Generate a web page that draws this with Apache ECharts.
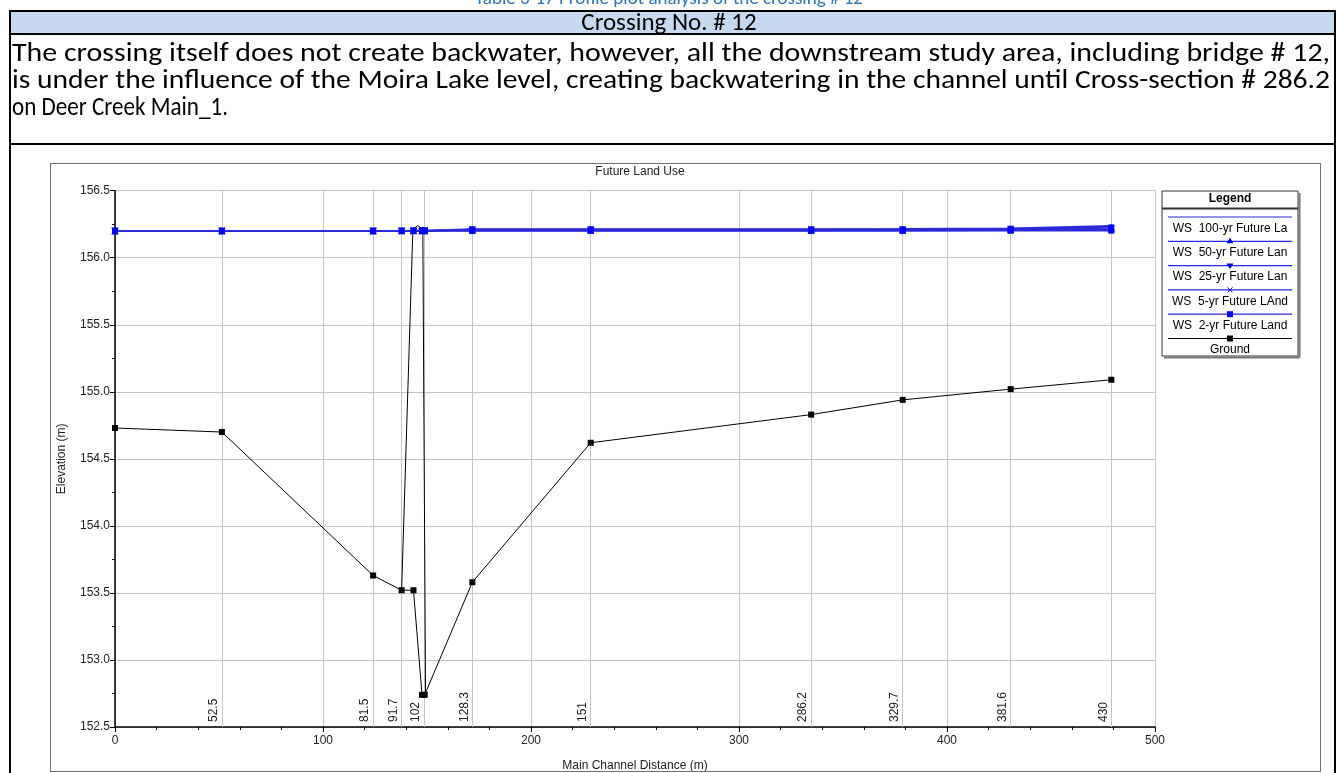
<!DOCTYPE html>
<html>
<head>
<meta charset="utf-8">
<script src="https://cdn.jsdelivr.net/npm/echarts@6/dist/echarts.min.js"></script>
<style>
  html, body { margin:0; padding:0; width:1338px; height:773px; overflow:hidden; background:#fff; }
  #chart { position:absolute; left:0; top:0; width:1338px; height:773px; }
  .doc { position:absolute; font-family: Carlito, 'Liberation Sans Narrow', 'Liberation Sans', sans-serif; color:#000; white-space:nowrap; }
  .fit { transform-origin: 0 50%; display:inline-block; }
  .hline { position:absolute; background:#000; }
</style>
</head>
<body>
<div id="chart"></div>
<!-- document table around the chart -->
<div class="doc" style="left:0;width:1338px;top:-14px;height:24px;line-height:24px;text-align:center;font-size:19px;color:#2E74B5;">Table 3-17 Profile plot analysis of the crossing # 12</div>
<div style="position:absolute;left:11px;top:12px;width:1323px;height:22px;background:#C6D9F1;"></div>
<div class="doc" style="left:0;width:1338px;top:10px;height:24px;line-height:24px;text-align:center;font-size:25px;">Crossing No. # 12</div>
<div class="hline" style="left:9px;top:10px;width:1327px;height:2px;"></div>
<div class="hline" style="left:9px;top:33px;width:1327px;height:2px;"></div>
<div class="hline" style="left:9px;top:143px;width:1327px;height:2px;"></div>
<div class="hline" style="left:9px;top:10px;width:2px;height:763px;"></div>
<div class="hline" style="left:1334px;top:10px;width:2px;height:763px;"></div>
<div class="doc" style="left:12px;top:38px;height:28px;line-height:28px;font-size:26px;"><span class="fit" data-w="1318">The crossing itself does not create backwater, however, all the downstream study area, including bridge # 12,</span></div>
<div class="doc" style="left:12px;top:65px;height:28px;line-height:28px;font-size:26px;"><span class="fit" data-w="1318">is under the influence of the Moira Lake level, creating backwatering in the channel until Cross-section # 286.2</span></div>
<div class="doc" style="left:12px;top:92px;height:28px;line-height:28px;font-size:26px;"><span class="fit" data-w="216">on Deer Creek Main_1.</span></div>
<div style="position:absolute;left:50px;top:163px;width:1269px;height:607px;border:1px solid #707070;"></div>

<script>
// ---------------- data ----------------
const distances = [0, 51.4, 124.1, 137.8, 143.5, 147.6, 148.9, 171.8, 228.7, 334.7, 378.7, 430.6, 479.0];
const ground    = [154.73, 154.70, 153.63, 153.52, 153.52, 152.74, 152.74, 153.58, 154.62, 154.83, 154.94, 155.02, 155.09];
const ws100     = [156.201, 156.201, 156.201, 156.201, 156.202, 156.202, 156.202, 156.214, 156.214, 156.214, 156.215, 156.220, 156.238];
const ws50      = [156.200, 156.200, 156.200, 156.201, 156.201, 156.201, 156.201, 156.211, 156.211, 156.211, 156.212, 156.216, 156.230];
const ws25      = [156.200, 156.200, 156.200, 156.200, 156.201, 156.201, 156.201, 156.208, 156.208, 156.208, 156.209, 156.212, 156.222];
const ws5       = [156.200, 156.200, 156.200, 156.200, 156.200, 156.200, 156.200, 156.204, 156.204, 156.204, 156.205, 156.207, 156.212];
const ws2       = [156.200, 156.200, 156.200, 156.200, 156.200, 156.200, 156.200, 156.200, 156.200, 156.200, 156.200, 156.201, 156.202];
const bridgeDist = [137.8, 143.2, 145.5, 148.0, 149.3];
const bridgeElev = [153.52, 156.21, 156.24, 156.21, 152.74];
const stationDist   = [51.4, 124.1, 137.8, 148.5, 171.8, 228.7, 334.7, 378.7, 430.6, 479.0];
const stationLabels = ['52.5', '81.5', '91.7', '102', '128.3', '151', '286.2', '329.7', '381.6', '430'];
const seriesNames = ['WS  100-yr Future La', 'WS  50-yr Future Lan', 'WS  25-yr Future Lan', 'WS  5-yr Future LAnd', 'WS  2-yr Future Land', 'Ground'];
const chartTitle = 'Future Land Use';
const xName = 'Main Channel Distance (m)';
const yName = 'Elevation (m)';

// ---------------- text fitting for document lines ----------------
document.querySelectorAll('.fit').forEach(function (el) {
  const w = el.getBoundingClientRect().width;
  const target = +el.getAttribute('data-w');
  if (w > 0) el.style.transform = 'scaleX(' + (target / w) + ')';
});

// ---------------- chart ----------------
const FONT = "'Liberation Sans', Arial, sans-serif";
const BLUE_LINE = '#2a2ad8';
const BLUE = '#0000ff';
const pair = (xs, ys) => xs.map((x, i) => [x, ys[i]]);

const G = { left: 115, top: 190.7, width: 1040, height: 536.3, containLabel: false, outerBoundsMode: 'none' };

const wsDefs = [
  { name: seriesNames[0], data: ws100, symbol: 'none', size: 0, rot: 0 },
  { name: seriesNames[1], data: ws50, symbol: 'triangle', size: 7, rot: 0 },
  { name: seriesNames[2], data: ws25, symbol: 'triangle', size: 7, rot: 180 },
  { name: seriesNames[3], data: ws5, symbol: 'path://M0,0L10,10M10,0L0,10', size: 6, rot: 0 },
  { name: seriesNames[4], data: ws2, symbol: 'rect', size: 6, rot: 0 }
];

const series = [];
series.push({
  type: 'line', name: 'stations', data: [], silent: true, z: 1,
  markLine: {
    silent: true, symbol: ['none', 'none'], animation: false, z: 1,
    lineStyle: { color: '#c4c4c4', width: 1, type: 'solid' },
    label: { show: true, position: 'insideStartTop', formatter: '{b}', color: '#222', fontSize: 12, fontFamily: FONT, distance: [5, 2] },
    emphasis: { disabled: true },
    data: stationDist.map((d, i) => [{ coord: [d, 152.5], name: stationLabels[i] }, { coord: [d, 156.5] }])
  }
});
series.push({
  type: 'line', name: 'bridge', data: pair(bridgeDist, bridgeElev), z: 3, silent: true,
  showSymbol: false, lineStyle: { color: '#000', width: 1 }
});
series.push({
  type: 'line', name: seriesNames[5], data: pair(distances, ground), z: 4,
  symbol: 'rect', symbolSize: 6, showAllSymbol: true,
  itemStyle: { color: '#000', borderWidth: 0 }, lineStyle: { color: '#000', width: 1 }
});
wsDefs.slice().reverse().forEach(function (s) {
  series.push({
    type: 'line', name: s.name, data: pair(distances, s.data), z: 5,
    symbol: s.symbol, symbolSize: s.size, symbolRotate: s.rot, showSymbol: s.symbol !== 'none', showAllSymbol: true,
    itemStyle: { color: BLUE, borderColor: BLUE, borderWidth: s.symbol.indexOf('path') === 0 ? 1.5 : 0 },
    lineStyle: { color: BLUE_LINE, width: 1.6 }
  });
});

const LX = 1162, LY = 191, LW = 136, LH = 165;
const legendEls = [
  { type: 'rect', shape: { x: LX, y: LY, width: LW, height: LH }, style: { fill: '#fff', stroke: '#333', lineWidth: 1 } },
  { type: 'line', shape: { x1: LX + LW + 1.5, y1: LY + 2, x2: LX + LW + 1.5, y2: LY + LH + 1.5 }, style: { stroke: '#777', lineWidth: 2 } },
  { type: 'line', shape: { x1: LX + 2, y1: LY + LH + 1.5, x2: LX + LW + 1.5, y2: LY + LH + 1.5 }, style: { stroke: '#777', lineWidth: 2 } },
  { type: 'text', x: LX + LW / 2, y: LY + 8, style: { text: 'Legend', align: 'center', verticalAlign: 'middle', font: 'bold 12px ' + FONT, fill: '#000' } },
  { type: 'line', shape: { x1: LX, y1: LY + 17.5, x2: LX + LW, y2: LY + 17.5 }, style: { stroke: '#333', lineWidth: 2 } }
];
const markerShapes = ['none', 'tri', 'tridown', 'x', 'sq', 'sq'];
seriesNames.forEach(function (nm, i) {
  const ly = 217 + i * 24.3, ty = 228.5 + i * 24.3, cx = LX + LW / 2;
  const col = i === 5 ? '#000' : BLUE_LINE;
  const mcol = i === 5 ? '#000' : BLUE;
  legendEls.push({ type: 'line', shape: { x1: LX + 6, y1: ly, x2: LX + LW - 6, y2: ly }, style: { stroke: col, lineWidth: 1.2 } });
  const m = markerShapes[i];
  if (m === 'tri') legendEls.push({ type: 'polygon', shape: { points: [[cx, ly - 3.5], [cx - 3.5, ly + 2], [cx + 3.5, ly + 2]] }, style: { fill: mcol } });
  if (m === 'tridown') legendEls.push({ type: 'polygon', shape: { points: [[cx, ly + 3.5], [cx - 3.5, ly - 2], [cx + 3.5, ly - 2]] }, style: { fill: mcol } });
  if (m === 'x') {
    legendEls.push({ type: 'line', shape: { x1: cx - 2.5, y1: ly - 2.5, x2: cx + 2.5, y2: ly + 2.5 }, style: { stroke: mcol, lineWidth: 1 } });
    legendEls.push({ type: 'line', shape: { x1: cx + 2.5, y1: ly - 2.5, x2: cx - 2.5, y2: ly + 2.5 }, style: { stroke: mcol, lineWidth: 1 } });
  }
  if (m === 'sq') legendEls.push({ type: 'rect', shape: { x: cx - 3, y: ly - 3, width: 6, height: 6 }, style: { fill: mcol } });
  legendEls.push({ type: 'text', x: cx, y: ty, style: { text: nm, align: 'center', verticalAlign: 'middle', font: '12px ' + FONT, fill: '#000' } });
});
legendEls.push({ type: 'text', x: 640, y: 172, style: { text: chartTitle, align: 'center', verticalAlign: 'middle', font: '12px ' + FONT, fill: '#222' } });

const chart = echarts.init(document.getElementById('chart'));
chart.setOption({
  animation: false,
  textStyle: { fontFamily: FONT },
  grid: G,
  xAxis: {
    type: 'value', min: 0, max: 500, interval: 100,
    name: xName, nameLocation: 'middle', nameGap: 33,
    nameTextStyle: { color: '#222', fontSize: 12, fontFamily: FONT },
    axisLine: { show: true, onZero: false, lineStyle: { color: '#000', width: 1.5 } },
    axisTick: { show: true, length: 5, lineStyle: { color: '#000' } },
    minorTick: { show: true, splitNumber: 5, length: 3, lineStyle: { color: '#000' } },
    splitLine: { show: true, lineStyle: { color: '#c4c4c4', width: 1 } },
    axisLabel: { color: '#222', fontSize: 12, fontFamily: FONT, margin: 8 }
  },
  yAxis: {
    type: 'value', min: 152.5, max: 156.5, interval: 0.5,
    name: yName, nameLocation: 'middle', nameGap: 47,
    nameTextStyle: { color: '#222', fontSize: 12, fontFamily: FONT },
    axisLine: { show: true, onZero: false, lineStyle: { color: '#000', width: 1.5 } },
    axisTick: { show: true, length: 5, lineStyle: { color: '#000' } },
    minorTick: { show: true, splitNumber: 2, length: 3, lineStyle: { color: '#000' } },
    splitLine: { show: true, lineStyle: { color: '#c4c4c4', width: 1 } },
    axisLabel: { color: '#222', fontSize: 12, fontFamily: FONT, margin: 5, formatter: v => v.toFixed(1) }
  },
  graphic: legendEls,
  series: series
});
</script>
</body>
</html>
